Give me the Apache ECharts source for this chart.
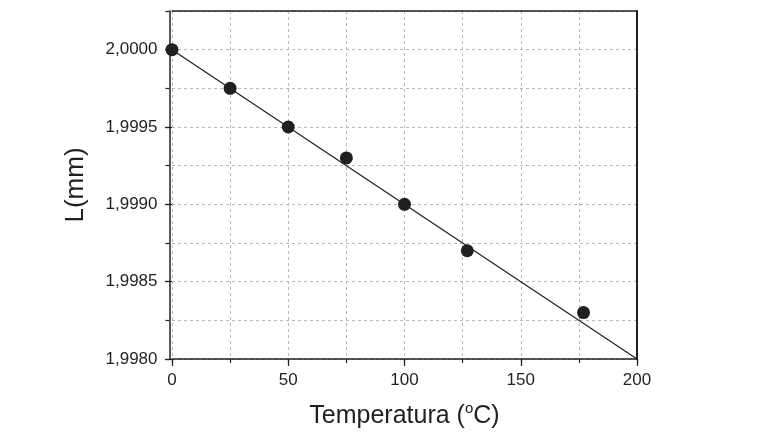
<!DOCTYPE html>
<html><head><meta charset="utf-8">
<script src="https://cdn.jsdelivr.net/npm/echarts@6/dist/echarts.min.js"></script>
<style>html,body{margin:0;padding:0;background:#fff}#c{width:778px;height:439px}</style>
</head><body><div id="c"></div>
<script>
const temps = [0, 25, 50, 75, 100, 127, 177];
const lengths = [2.0000, 1.99975, 1.9995, 1.9993, 1.9990, 1.9987, 1.9983];
const fitX = [0, 200];
const fitY = [2.0000, 1.9980];
const yMajorTicks = [1.9980, 1.9985, 1.9990, 1.9995, 2.0000];
const xMajorTicks = [0, 50, 100, 150, 200];

const ink = '#231f20';
const font = 'Liberation Sans, Arial, sans-serif';
const chart = echarts.init(document.getElementById('c'));
const gridLine = {show: true, lineStyle: {color: '#b9b9b9', type: [3, 3], width: 1}};
chart.setOption({
  animation: false,
  grid: {left: 172, right: 141, top: 11, bottom: 80},
  xAxis: [{
    type: 'value', min: 0, max: 200, interval: 25,
    axisLine: {show: true, onZero: false, lineStyle: {color: ink, width: 1.5}},
    axisTick: {show: true, length: 4, lineStyle: {color: ink, width: 1.2}},
    axisLabel: {color: ink, fontSize: 17, fontFamily: font, margin: 13,
      formatter: v => (v % 50 === 0 ? String(v) : '')},
    splitLine: gridLine,
    name: '{a|Temperatura (}{s|o}{a|C)}', nameLocation: 'middle', nameGap: 42,
    nameTextStyle: {rich: {
      a: {fontSize: 25, color: ink, fontFamily: font},
      s: {fontSize: 15, color: ink, fontFamily: font, padding: [0, 0, 15, 0]}
    }}
  }, {
    type: 'value', min: 0, max: 200, interval: 25, position: 'top',
    axisLine: {show: true, onZero: false, lineStyle: {color: ink, width: 1.5}},
    axisTick: {show: false}, axisLabel: {show: false}, splitLine: {show: false}
  }, {
    type: 'value', min: 0, max: 200, position: 'bottom',
    axisLine: {show: false},
    axisTick: {show: true, length: 7, customValues: xMajorTicks, lineStyle: {color: ink, width: 1.2}},
    axisLabel: {show: false}, splitLine: {show: false}
  }],
  yAxis: [{
    type: 'value', min: 1.9980, max: 2.00025, interval: 0.00025, offset: 2.5,
    axisLine: {show: true, onZero: false, lineStyle: {color: ink, width: 1.5}},
    axisTick: {show: true, length: 4, lineStyle: {color: ink, width: 1.2}},
    axisLabel: {color: ink, fontSize: 17, fontFamily: font, margin: 12,
      customValues: yMajorTicks,
      formatter: v => v.toFixed(4).replace('.', ',')},
    splitLine: gridLine,
    name: 'L(mm)', nameLocation: 'middle', nameGap: 81,
    nameTextStyle: {fontSize: 26, color: ink, fontFamily: font}
  }, {
    type: 'value', min: 1.9980, max: 2.00025, position: 'left', offset: 2.5,
    axisLine: {show: false},
    axisTick: {show: true, length: 7, customValues: yMajorTicks, lineStyle: {color: ink, width: 1.2}},
    axisLabel: {show: false}, splitLine: {show: false}
  }, {
    type: 'value', min: 1.9980, max: 2.00025, position: 'right',
    axisLine: {show: true, onZero: false, lineStyle: {color: ink, width: 2}},
    axisTick: {show: false}, axisLabel: {show: false}, splitLine: {show: false}
  }],
  series: [{
    type: 'line', xAxisIndex: 0, yAxisIndex: 0,
    data: fitX.map((x, i) => [x, fitY[i]]),
    showSymbol: false, symbol: 'none',
    lineStyle: {color: ink, width: 1.2}, z: 2
  }, {
    type: 'scatter', xAxisIndex: 0, yAxisIndex: 0,
    data: temps.map((t, i) => [t, lengths[i]]),
    symbolSize: 13, itemStyle: {color: ink, opacity: 1}, z: 3
  }]
});
</script></body></html>
